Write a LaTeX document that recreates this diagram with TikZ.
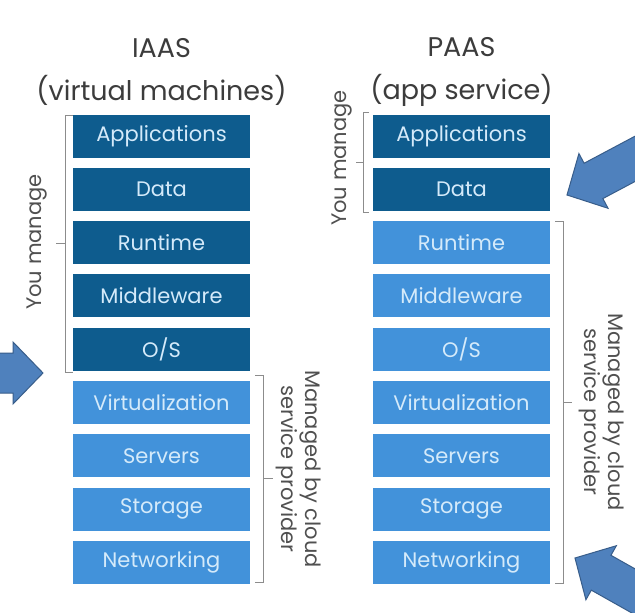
\documentclass[tikz,border=0pt]{standalone}
\usepackage{fontspec}
\setmainfont{Poppins}
\usetikzlibrary{positioning}
\definecolor{darkbox}{HTML}{0E5C8E}
\definecolor{lightbox}{HTML}{4292DA}
\definecolor{boxtext}{HTML}{D4EAFA}
\definecolor{bracegray}{HTML}{8C8C8C}
\definecolor{labelgray}{HTML}{505050}
\definecolor{titlegray}{HTML}{3C3C3C}
\definecolor{arrowfill}{HTML}{4F81BD}
\definecolor{arrowline}{HTML}{385D8A}
\tikzset{
  layer/.style={minimum width=177pt, minimum height=43pt, inner sep=0pt, text=boxtext, font=\fontsize{21}{24}\selectfont},
  own/.style={layer, fill=darkbox},
  prov/.style={layer, fill=lightbox},
  brace/.style={draw=bracegray, line width=0.8pt},
  side/.style={text=labelgray, align=center, font=\fontsize{21}{24}\selectfont},
  title/.style={text=titlegray, align=center, font=\fontsize{27}{43}\selectfont},
  pics/blockarrow/.style={code={
    \draw[fill=arrowfill, draw=arrowline, line width=1pt, line join=miter]
      (0,0) -- (-30,31) -- (-30,20) -- (-95,20) -- (-95,-20) -- (-30,-20) -- (-30,-31) -- cycle;}}
}
\begin{document}
\begin{tikzpicture}[x=1pt, y=-1pt]
\clip (0,0) rectangle (635,613);
\fill[white] (0,0) rectangle (635,613);

% IAAS column
\node[title] (iaasT) at (161.5,72) {IAAS\\(virtual machines)};
\foreach \lbl [count=\i] in {Applications,Data,Runtime,Middleware,O/S}
  \node[own] (iaas\i) at (161.5,{136+53.3*(\i-1)}) {\lbl};
\foreach \lbl [count=\i from 6] in {Virtualization,Servers,Storage,Networking}
  \node[prov] (iaas\i) at (161.5,{136+53.3*(\i-1)}) {\lbl};

% PAAS column
\node[title] (paasT) at (461.5,72) {PAAS\\(app service)};
\foreach \lbl [count=\i] in {Applications,Data}
  \node[own] (paas\i) at (461.5,{136+53.3*(\i-1)}) {\lbl};
\foreach \lbl [count=\i from 3] in {Runtime,Middleware,O/S,Virtualization,Servers,Storage,Networking}
  \node[prov] (paas\i) at (461.5,{136+53.3*(\i-1)}) {\lbl};

% brackets
\draw[brace] (73,115) -- (65,115) -- (65,372) -- (73,372);
\draw[brace] (65,243) -- (56,243);
\node[side, rotate=90] (iaasYou) at (37,242) {You manage};

\draw[brace] (255,375) -- (263,375) -- (263,582) -- (255,582);
\draw[brace] (263,478) -- (273,478);
\node[side, rotate=-90] (iaasCsp) at (298.5,469) {Managed by cloud\\service provider};

\draw[brace] (369,112) -- (363,112) -- (363,212) -- (369,212);
\draw[brace] (363,162) -- (356,162);
\node[side, rotate=90] (paasYou) at (342,158) {You manage};

\draw[brace] (555,221) -- (563,221) -- (563,583) -- (555,583);
\draw[brace] (563,402) -- (572,402);
\node[side, rotate=-90] (paasCsp) at (601.5,412) {Managed by cloud\\service provider};

% arrows
\pic at (43,373) {blockarrow};
\pic[rotate=208] at (567,195) {blockarrow};
\pic[rotate=150.6] at (575,558) {blockarrow};

\end{tikzpicture}
\end{document}
